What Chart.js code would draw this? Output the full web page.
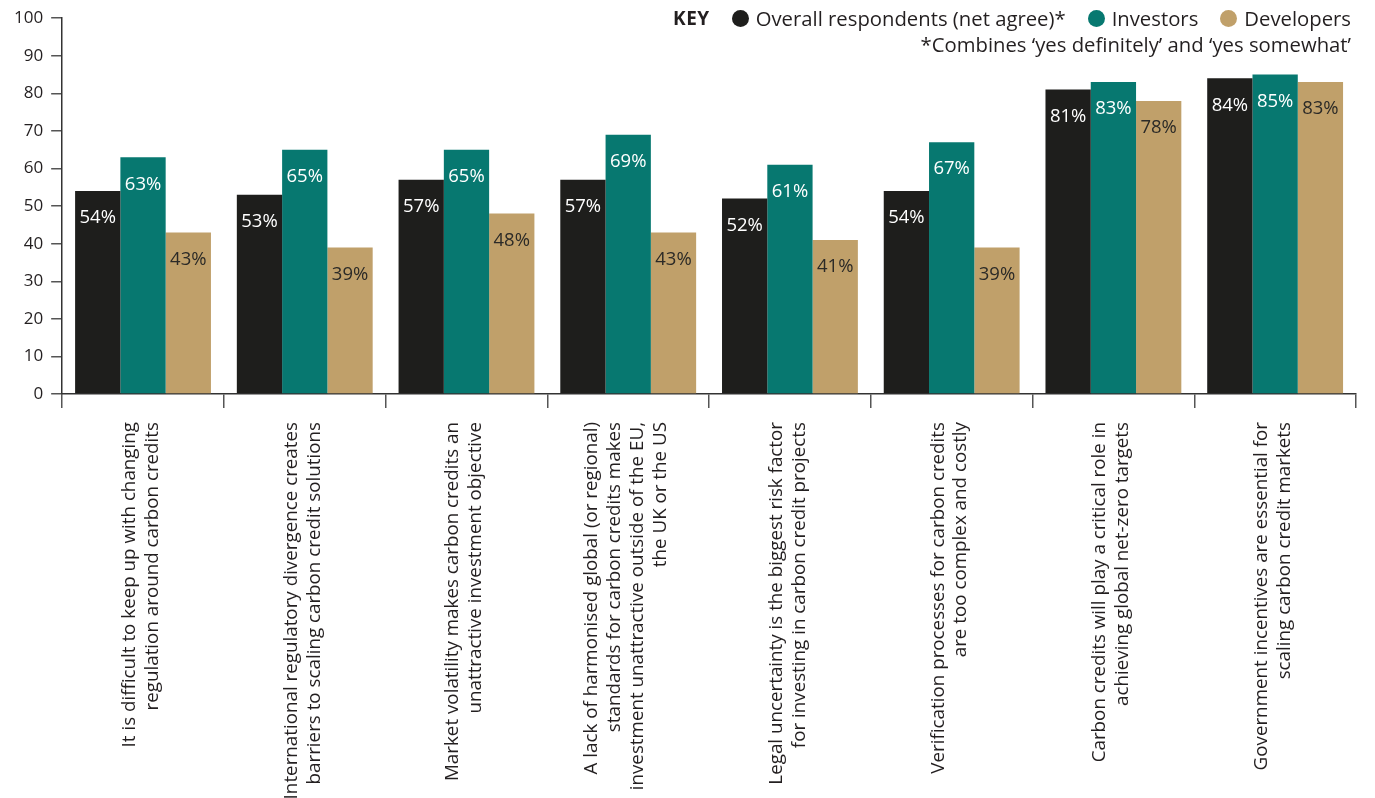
<!DOCTYPE html>
<html>
<head>
<meta charset="utf-8">
<script src="https://cdn.jsdelivr.net/npm/chart.js@4/dist/chart.umd.min.js"></script>
<style>
  html, body { margin: 0; padding: 0; background: #fff; }
  #wrap { position: relative; width: 1375px; height: 798px; overflow: hidden; }
  #key {
    position: absolute; right: 24px; top: 5px;
    font-family: "Open Sans", sans-serif; font-size: 20.3px; color: #231f20;
    text-align: right; line-height: 26px;
  }
  #key .row { display: flex; justify-content: flex-end; align-items: center; }
  #key b { font-weight: 700; margin-right: 22px; letter-spacing: 0.5px; font-size: 19px; }
  #key .dot { display: inline-block; width: 17px; height: 17px; border-radius: 50%; margin-right: 7px; }
  #key .item { display: flex; align-items: center; margin-left: 22px; }
</style>
</head>
<body>
<div id="wrap">
  <canvas id="carbon-credits"></canvas>
  <div id="key">
    <div class="row">
      <b>KEY</b>
      <span class="item" style="margin-left:0"><span class="dot" style="background:#1e1e1c"></span>Overall respondents (net agree)*</span>
      <span class="item"><span class="dot" style="background:#077870"></span>Investors</span>
      <span class="item"><span class="dot" style="background:#c0a06a"></span>Developers</span>
    </div>
    <div>*Combines ‘yes definitely’ and ‘yes somewhat’</div>
  </div>
</div>
<script>
const statements = [
  ["It is difficult to keep up with changing", "regulation around carbon credits"],
  ["International regulatory divergence creates", "barriers to scaling carbon credit solutions"],
  ["Market volatility makes carbon credits an", "unattractive investment objective"],
  ["A lack of harmonised global (or regional)", "standards for carbon credits makes", "investment unattractive outside of the EU,", "the UK or the US"],
  ["Legal uncertainty is the biggest risk factor", "for investing in carbon credit projects"],
  ["Verification processes for carbon credits", "are too complex and costly"],
  ["Carbon credits will play a critical role in", "achieving global net-zero targets"],
  ["Government incentives are essential for", "scaling carbon credit markets"],
];

const overall = [54, 53, 57, 57, 52, 54, 81, 84];
const investors = [63, 65, 65, 69, 61, 67, 83, 85];
const developers = [43, 39, 48, 43, 41, 39, 78, 83];

const yTicks = [0, 10, 20, 30, 40, 50, 60, 70, 80, 90, 100];

const colours = {
  overall: "#1e1e1c",
  investors: "#077870",
  developers: "#c0a06a",
};

const FONT = "'Open Sans', sans-serif";
const X_FONT_SIZE = 18.8;
const X_LINE_HEIGHT = 1.22;

// percentage labels just inside the top of each bar
const barLabels = {
  id: "barLabels",
  afterDatasetsDraw(chart) {
    const { ctx } = chart;
    ctx.save();
    ctx.font = `18.5px ${FONT}`;
    ctx.textAlign = "center";
    ctx.textBaseline = "middle";
    chart.data.datasets.forEach((ds, i) => {
      const meta = chart.getDatasetMeta(i);
      ctx.fillStyle = ds.labelColour;
      meta.data.forEach((bar, j) => {
        ctx.fillText(`${ds.data[j]}%`, bar.x, bar.y + 27);
      });
    });
    ctx.restore();
  },
};

// rotated multi-line labels start at the tick; centre the block of lines on it
const centreRotatedLines = {
  id: "centreRotatedLines",
  beforeDraw(chart) {
    const xScale = chart.scales.x;
    const lh = X_FONT_SIZE * X_LINE_HEIGHT;
    xScale.getLabelItems().forEach((item) => {
      if (item._centred) return;
      const lines = Array.isArray(item.label) ? item.label.length : 1;
      item.textOffset += -((lines - 1) * lh) / 2 - 2;
      item._centred = true;
    });
  },
};

new Chart(document.getElementById("carbon-credits"), {
  type: "bar",
  data: {
    labels: statements,
    datasets: [
      { label: "Overall respondents (net agree)*", data: overall, backgroundColor: colours.overall, labelColour: "#ffffff" },
      { label: "Investors", data: investors, backgroundColor: colours.investors, labelColour: "#ffffff" },
      { label: "Developers", data: developers, backgroundColor: colours.developers, labelColour: "#2b2a27" },
    ],
  },
  options: {
    responsive: true,
    maintainAspectRatio: false,
    animation: false,
    datasets: {
      bar: { categoryPercentage: 0.84, barPercentage: 1 },
    },
    layout: { padding: { top: 7, left: 6, right: 19, bottom: 0 } },
    plugins: {
      legend: { display: false },
      tooltip: { enabled: false },
    },
    scales: {
      x: {
        offset: true,
        // room below the axis for the rotated statements
        afterFit(axis) {
          axis.height = 404;
        },
        grid: {
          offset: true,
          drawOnChartArea: false,
          drawTicks: true,
          tickLength: 14,
          color: "#555",
          lineWidth: 1.5,
        },
        border: { color: "#333", width: 1.5 },
        ticks: {
          autoSkip: false,
          maxRotation: 90,
          minRotation: 90,
          padding: 14,
          color: "#231f20",
          font: { family: FONT, size: X_FONT_SIZE, lineHeight: X_LINE_HEIGHT },
        },
      },
      y: {
        min: 0,
        max: 100,
        afterBuildTicks(axis) {
          axis.ticks = yTicks.map((v) => ({ value: v }));
        },
        grid: {
          drawOnChartArea: false,
          drawTicks: true,
          tickLength: 11,
          color: "#555",
          lineWidth: 1.5,
        },
        border: { color: "#333", width: 1.5 },
        ticks: {
          padding: 8,
          color: "#231f20",
          font: { family: FONT, size: 17 },
        },
      },
    },
  },
  plugins: [barLabels, centreRotatedLines],
});
</script>
</body>
</html>
